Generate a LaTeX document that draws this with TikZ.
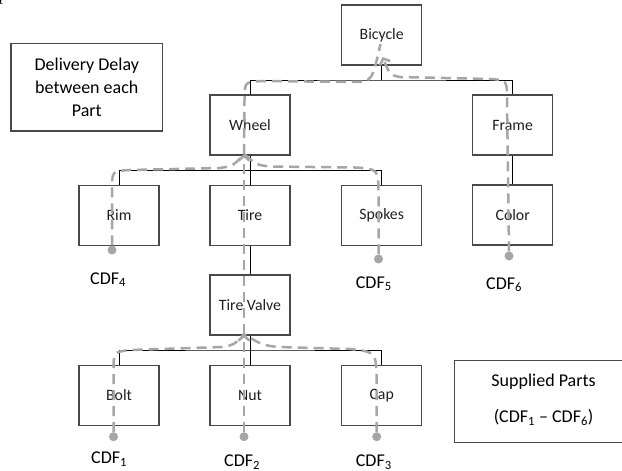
\documentclass[tikz,border=0pt]{standalone}
\usepackage{fontspec}
\setmainfont{Carlito}
\newfontfamily\captionfont{Liberation Serif}
\usetikzlibrary{arrows.meta}
\definecolor{boxline}{RGB}{72,72,72}
\definecolor{flowgray}{RGB}{166,166,166}
\definecolor{labeltext}{RGB}{30,30,40}
\begin{document}
\begin{tikzpicture}[x=1pt,y=-1pt,
  part/.style={draw=boxline,line width=1.1pt,minimum width=80pt,minimum height=60pt,
    inner sep=0pt,font=\fontsize{15.8}{18}\selectfont,text=labeltext},
  frameonly/.style={draw=boxline,line width=1.1pt,inner sep=0pt},
  link/.style={line width=0.9pt,black},
  flow/.style={draw=flowgray,line width=2.5pt,dash pattern=on 10pt off 6pt},
  flowtip/.style={flow,-{Straight Barb[length=5pt,width=11pt]}},
  cdfdot/.style={circle,fill=flowgray,minimum size=9pt,inner sep=0pt},
  note/.style={font=\fontsize{18}{23.4}\selectfont,inner sep=0pt}]

\useasboundingbox (0,0) rectangle (622,471);
\clip (0,0) rectangle (622,471);

% cut-off caption line above the diagram
\node[font=\captionfont\itshape\fontsize{22}{22}\selectfont,anchor=base west,inner sep=0pt]
  (caption) at (-1,-0.5) {ple};

% side notes
\node[frameonly,minimum width=151.7pt,minimum height=87.3pt,align=center,
  font=\fontsize{18}{23.4}\selectfont] (delay) at (86.8,87.3)
  {Delivery Delay\\between each\\Part};
\node[frameonly,minimum width=178.6pt,minimum height=82.3pt] (supplied) at (543.6,401.2) {};
\node[note,anchor=base] (suppliedA) at (543.6,386) {Supplied Parts};
\node[note,anchor=base] (suppliedB) at (543.6,422.7) {(CDF\textsubscript{1} – CDF\textsubscript{6})};

% parts
\node[part] (bicycle) at (381.7,35)    {Bicycle};
\node[part] (wheel)   at (250,125)     {Wheel};
\node[part] (frame)   at (512.7,125)   {Frame};
\node[part] (rim)     at (119,215.3)   {Rim};
\node[part] (tire)    at (250,215.3)   {Tire};
\node[part] (spokes)  at (381.7,215.3) {Spokes};
\node[part] (color)   at (512.7,215)   {Color};
\node[part] (valve)   at (250,305)     {Tire Valve};
\node[part] (bolt)    at (119,395.3)   {Bolt};
\node[part] (nut)     at (250,395.3)   {Nut};
\node[part] (cap)     at (381.7,395.3) {Cap};

% product structure
\coordinate (busA) at (381.7,80);
\coordinate (busB) at (250,170.7);
\coordinate (busC) at (250,350);
\draw[link] (bicycle.south) -- (busA);
\draw[link] (wheel.north) |- (busA) -| (frame.north);
\draw[link] (wheel.south) -- (busB);
\draw[link] (rim.north) |- (busB) -| (spokes.north);
\draw[link] (busB) -- (tire.north);
\draw[link] (frame.south) -- (color.north);
\draw[link] (tire.south) -- (valve.north);
\draw[link] (valve.south) -- (busC);
\draw[link] (bolt.north) |- (busC) -| (cap.north);
\draw[link] (busC) -- (nut.north);

% supplier distributions
\node[cdfdot] (d4) at (112,250)   {};
\node[cdfdot] (d5) at (378.5,259) {};
\node[cdfdot] (d6) at (509,256)   {};
\node[cdfdot] (d1) at (113.5,436.7) {};
\node[cdfdot] (d2) at (244,436.7) {};
\node[cdfdot] (d3) at (376.7,436.7) {};

\node[note,anchor=base west] (cdf4) at (90,284)    {CDF\textsubscript{4}};
\node[note,anchor=base west] (cdf5) at (355.7,288) {CDF\textsubscript{5}};
\node[note,anchor=base west] (cdf6) at (486,289)   {CDF\textsubscript{6}};
\node[note,anchor=base west] (cdf1) at (91,463.5)  {CDF\textsubscript{1}};
\node[note,anchor=base west] (cdf2) at (224,466.5) {CDF\textsubscript{2}};
\node[note,anchor=base west] (cdf3) at (355.7,466.5) {CDF\textsubscript{3}};

% delay flows
\coordinate (tipValve) at (244,334);
\coordinate (tipWheel) at (244,154);
\coordinate (tipBike)  at (380.5,44);
\coordinate (tipBikeR) at (382.5,57);

\draw[flow] (d1.north) -- (113.5,372) .. controls (113.5,352) .. (130,350)
  -- (222,347) .. controls (234,345) .. (tipValve);
\draw[flow] (d3.north) -- (376.7,380) .. controls (376,352) .. (350,349)
  -- (278,347) .. controls (262,345) .. (tipValve);
\draw[flowtip] (d2.north) -- (tipValve);
\draw[flowtip] (tipValve) -- (tipWheel);

\draw[flow] (d4.north) -- (112,190) .. controls (112,171) .. (130,170)
  -- (220,168) .. controls (233,166) .. (tipWheel);
\draw[flow] (d5.north) -- (378.5,195) .. controls (378.5,169) .. (355,167.5)
  -- (270,166.5) .. controls (257,165) .. (tipWheel);

\draw[flow] (tipWheel) -- (244.5,100) .. controls (244.5,82) .. (262,81)
  -- (352,82) .. controls (372,82) .. (tipBike);
\draw[flowtip] (d6.north) -- (507,100) .. controls (507,80) .. (490,79)
  -- (400,77) .. controls (390,75) .. (tipBikeR);
\end{tikzpicture}
\end{document}
